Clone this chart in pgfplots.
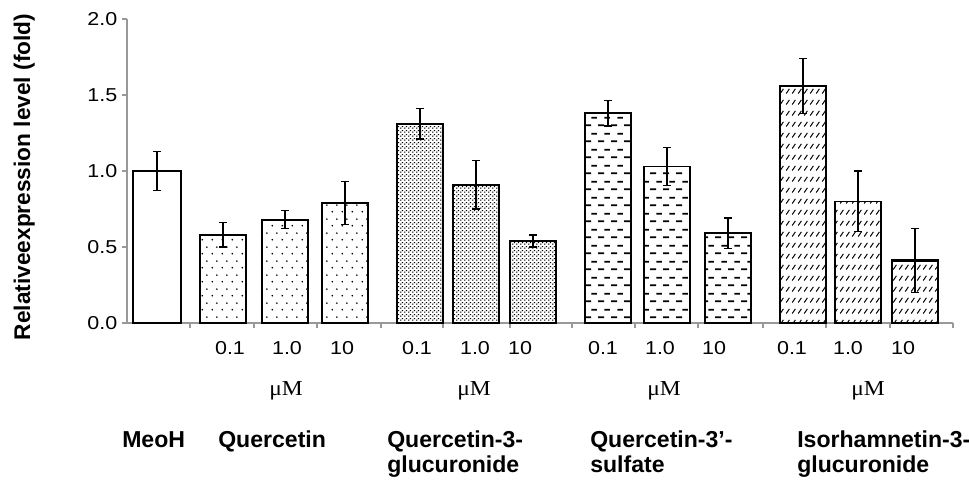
\documentclass[border=0pt]{standalone}
\usepackage{pgfplots}
\pgfplotsset{compat=1.18}
\usepackage{fontspec}
\setmainfont{Liberation Sans}
\newfontfamily\tickfont[FakeStretch=1.15]{Liberation Sans}
\newfontfamily\mufont[FakeStretch=1.1]{Liberation Serif}
\usetikzlibrary{patterns}

\pgfdeclarepatternformonly{sparsedots}{\pgfqpoint{0pt}{0pt}}{\pgfqpoint{7.5pt}{10.5pt}}{\pgfqpoint{7.5pt}{10.5pt}}{%
  \pgfpathcircle{\pgfqpoint{1.875pt}{2.625pt}}{0.75pt}%
  \pgfpathcircle{\pgfqpoint{5.625pt}{7.875pt}}{0.75pt}%
  \pgfusepath{fill}}
\pgfdeclarepatternformonly{densedots}{\pgfqpoint{0pt}{0pt}}{\pgfqpoint{3pt}{3pt}}{\pgfqpoint{3pt}{3pt}}{%
  \pgfpathrectangle{\pgfqpoint{0.15pt}{0.35pt}}{\pgfqpoint{1.2pt}{0.9pt}}%
  \pgfpathrectangle{\pgfqpoint{1.65pt}{1.85pt}}{\pgfqpoint{1.2pt}{0.9pt}}%
  \pgfusepath{fill}}
\pgfdeclarepatternformonly{hdashes}{\pgfqpoint{0pt}{0pt}}{\pgfqpoint{9.75pt}{12pt}}{\pgfqpoint{9.75pt}{12pt}}{%
  \pgfsetlinewidth{1.4pt}%
  \pgfsetbuttcap
  \pgfpathmoveto{\pgfqpoint{0.2pt}{3pt}}\pgfpathlineto{\pgfqpoint{4.9pt}{3pt}}%
  \pgfpathmoveto{\pgfqpoint{5.075pt}{9pt}}\pgfpathlineto{\pgfqpoint{9.6pt}{9pt}}%
  \pgfusepath{stroke}}
\pgfdeclarepatternformonly{slashes}{\pgfqpoint{0pt}{0pt}}{\pgfqpoint{4.75pt}{8.25pt}}{\pgfqpoint{4.75pt}{8.25pt}}{%
  \pgfsetlinewidth{0.8pt}%
  \pgfpathmoveto{\pgfqpoint{1pt}{2pt}}\pgfpathlineto{\pgfqpoint{3.6pt}{5.8pt}}%
  \pgfusepath{stroke}}

\begin{document}
\begin{tikzpicture}[x=0.75pt,y=0.75pt]
\useasboundingbox (0,0) rectangle (969,481);
\begin{axis}[
  at={(95.25pt,118.5pt)}, anchor=south west,
  scale only axis, width=619.5pt, height=228pt,
  xmin=127, xmax=953, ymin=0, ymax=2,
  axis lines=left,
  axis line style={-, draw=gray!80, line width=1pt},
  xtick={190,254,317,381,443,510,572,635,698,763,826,890,953},
  xticklabels={},
  ytick={0,0.5,1,1.5,2},
  tick align=outside, major tick length=3.75pt,
  tick style={draw=gray!80, line width=0.8pt},
  yticklabel style={font=\tickfont\fontsize{14}{16}\selectfont,
    /pgf/number format/fixed, /pgf/number format/fixed zerofill,
    /pgf/number format/precision=1, /pgf/number format/assume math mode=true},
  clip=false,
  every axis plot/.append style={ybar, bar shift=0pt, bar width=46, draw=black, line width=1.3pt,
    error bars/y dir=both, error bars/y explicit,
    error bars/error bar style={line width=1pt, black},
    error bars/error mark options={rotate=90, mark size=3pt, line width=1pt, black}},
]
\addplot[fill=white, bar width=48] coordinates {(157,1.00) +- (0,0.13)};
\addplot[pattern=sparsedots] coordinates {(223,0.58) +- (0,0.08) (285,0.68) +- (0,0.06) (345,0.79) +- (0,0.14)};
\addplot[pattern=densedots] coordinates {(420,1.31) +- (0,0.10) (476,0.91) +- (0,0.16) (533,0.54) +- (0,0.04)};
\addplot[pattern=hdashes] coordinates {(608,1.38) +- (0,0.085) (667,1.03) +- (0,0.125) (728,0.59) +- (0,0.10)};
\addplot[pattern=slashes] coordinates {(803,1.56) +- (0,0.18) (858,0.80) +- (0,0.20)};
\addplot[pattern=slashes, line width=2.2pt] coordinates {(915,0.41) +- (0,0.21)};
\end{axis}

\node[rotate=90, anchor=base, font=\bfseries\fontsize{17}{20}\selectfont] at (30,304) {Relativeexpression level (fold)};

\begin{scope}[every node/.style={anchor=base, font=\tickfont\fontsize{14}{16}\selectfont}]
\node at (230,126) {0.1}; \node at (287,126) {1.0}; \node at (342,126) {10};
\node at (417,126) {0.1}; \node at (475,126) {1.0}; \node at (520,126) {10};
\node at (603,126) {0.1}; \node at (660,126) {1.0}; \node at (714,126) {10};
\node at (792,126) {0.1}; \node at (848,126) {1.0}; \node at (903,126) {10};
\end{scope}
\begin{scope}[every node/.style={anchor=base, font=\mufont\fontsize{16}{18}\selectfont}]
\node at (286,85) {μM}; \node at (474,85) {μM}; \node at (664,85) {μM}; \node at (868,85) {μM};
\end{scope}
\begin{scope}[every node/.style={anchor=base west, inner sep=0pt, font=\bfseries\fontsize{17.3}{19}\selectfont}]
\node at (122,33) {MeoH};
\node at (218,33) {Quercetin};
\node at (387,33) {Quercetin-3-};
\node at (387,8) {glucuronide};
\node at (590,33) {Quercetin-3’-};
\node at (590,8) {sulfate};
\node at (797,33) {Isorhamnetin-3-};
\node at (797,8) {glucuronide};
\end{scope}
\end{tikzpicture}
\end{document}
